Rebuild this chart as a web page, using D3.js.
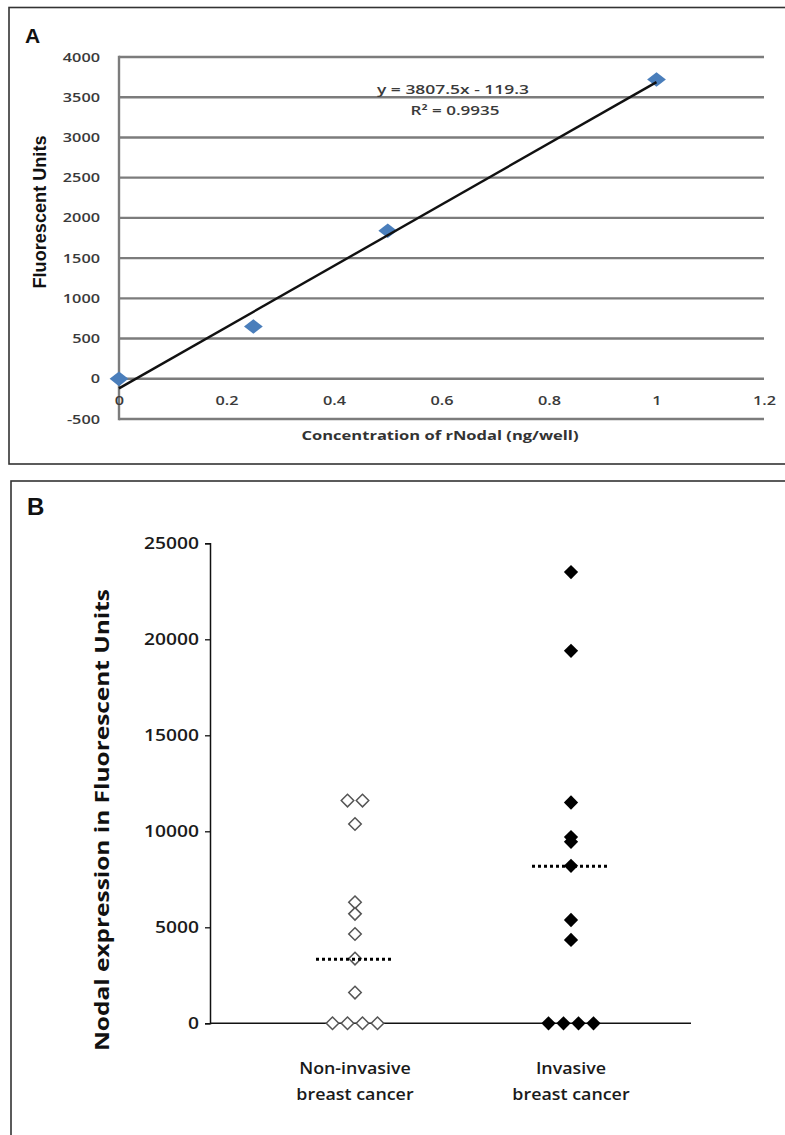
<!DOCTYPE html>
<html>
<head>
<meta charset="utf-8">
<script src="https://cdn.jsdelivr.net/npm/d3@7"></script>
<style>
  html, body { margin: 0; padding: 0; background: #fff; }
  svg { display: block; }
</style>
</head>
<body>
<svg id="chart" width="785" height="1135"></svg>
<script>
// Panel A: standard curve
const concentration = [0, 0.25, 0.5, 1];
const fluorescence = [0, 650, 1840, 3720];
const trendSlope = 3807.5;
const trendIntercept = -119.3;
const trendR2 = 0.9935;
const xTicksA = [0, 0.2, 0.4, 0.6, 0.8, 1, 1.2];
const yTicksA = [-500, 0, 500, 1000, 1500, 2000, 2500, 3000, 3500, 4000];

// Panel B: dot plot
const categories = ["Non-invasive", "Invasive"];
const categoryLines = [["Non-invasive", "breast cancer"], ["Invasive", "breast cancer"]];
const nonInvasive = [11600, 11600, 10380, 6300, 5700, 4650, 3370, 1600, 0, 0, 0, 0];
const invasive = [23500, 19400, 11500, 9700, 9450, 8200, 5380, 4340, 0, 0, 0, 0];
const medianValues = [3330, 8180];
const yTicksB = [0, 5000, 10000, 15000, 20000, 25000];

const svg = d3.select("#chart");

// stretch text horizontally (the source figure is wider than tall)
const stretch = (sel, f) => sel.each(function () {
    const w = this.getComputedTextLength();
    this.setAttribute("textLength", w * f);
    this.setAttribute("lengthAdjust", "spacingAndGlyphs");
});

// ---------- Panel A ----------
svg.append("rect").attr("x", 9).attr("y", 7.5).attr("width", 800).attr("height", 456.5)
    .attr("fill", "none").attr("stroke", "#333").attr("stroke-width", 1.6);

svg.append("text").attr("x", 25).attr("y", 43).text("A")
    .attr("font-family", "Liberation Sans, Arial").attr("font-weight", "bold")
    .attr("font-size", 21).attr("fill", "#111");

const xA = d3.scaleLinear().domain([0, 1.2]).range([119, 764]);
const yA = d3.scaleLinear().domain([-500, 4000]).range([419, 57]);

const gA = svg.append("g");

// gridlines
gA.append("g").selectAll("line").data(yTicksA).join("line")
    .attr("x1", xA(0)).attr("x2", xA(1.2))
    .attr("y1", d => yA(d)).attr("y2", d => yA(d))
    .attr("stroke", "#7c7c7c").attr("stroke-width", 2.4);

gA.append("line").attr("x1", xA(0)).attr("x2", xA(0))
    .attr("y1", yA(4000) - 1.2).attr("y2", yA(-500) + 1.2)
    .attr("stroke", "#7c7c7c").attr("stroke-width", 2.4);

// y axis labels
const yAxisA = gA.append("g").attr("transform", `translate(${xA(0)},0)`)
    .call(d3.axisLeft(yA).tickValues(yTicksA).tickSize(0).tickPadding(19)
        .tickFormat(d => (d < 0 ? "-" : "") + Math.abs(d)));
yAxisA.select(".domain").remove();
yAxisA.selectAll("text").attr("font-family", "Open Sans").attr("font-size", 12.5)
    .attr("font-weight", 600).attr("fill", "#3a3a3a").call(stretch, 1.3);

// x axis labels, sitting below the zero line
const xAxisA = gA.append("g").attr("transform", `translate(0,${yA(0)})`)
    .call(d3.axisBottom(xA).tickValues(xTicksA).tickSize(0).tickPadding(17)
        .tickFormat(d => String(+d.toFixed(1))));
xAxisA.select(".domain").remove();
xAxisA.selectAll("text").attr("font-family", "Open Sans").attr("font-size", 12.5)
    .attr("font-weight", 600).attr("fill", "#3a3a3a").call(stretch, 1.3);

// points
const diamond = d3.symbol().type(d3.symbolDiamond2);
gA.append("g").selectAll("path").data(concentration).join("path")
    .attr("transform", (d, i) => `translate(${xA(d)},${yA(fluorescence[i])}) scale(1.15,0.9)`)
    .attr("d", diamond.size(170))
    .attr("fill", "#4a7ebb");

// linear trendline
const trend = d3.extent(concentration).map(x => [x, trendSlope * x + trendIntercept]);
gA.append("path").datum(trend)
    .attr("d", d3.line().x(d => xA(d[0])).y(d => yA(d[1])))
    .attr("stroke", "#111").attr("stroke-width", 2.4).attr("fill", "none");

gA.append("text").attr("x", 453).attr("y", 94).attr("text-anchor", "middle")
    .attr("font-family", "Open Sans").attr("font-size", 12.5).attr("font-weight", 600)
    .attr("fill", "#3a3a3a")
    .attr("textLength", 152).attr("lengthAdjust", "spacingAndGlyphs")
    .text(`y = ${trendSlope}x - ${Math.abs(trendIntercept)}`);
gA.append("text").attr("x", 455).attr("y", 115).attr("text-anchor", "middle")
    .attr("font-family", "Open Sans").attr("font-size", 12.5).attr("font-weight", 600)
    .attr("fill", "#3a3a3a")
    .attr("textLength", 89).attr("lengthAdjust", "spacingAndGlyphs")
    .text(`R² = ${trendR2}`);

gA.append("text").attr("x", 440).attr("y", 440).attr("text-anchor", "middle")
    .attr("font-family", "Open Sans").attr("font-weight", "bold").attr("font-size", 13)
    .attr("fill", "#333").attr("textLength", 277).attr("lengthAdjust", "spacingAndGlyphs")
    .text("Concentration of rNodal (ng/well)");

gA.append("text").attr("transform", "translate(46,212) rotate(-90) scale(1,1.35)")
    .attr("text-anchor", "middle")
    .attr("font-family", "Liberation Sans, Arial").attr("font-weight", "bold").attr("font-size", 14)
    .attr("fill", "#111").attr("textLength", 153).attr("lengthAdjust", "spacingAndGlyphs")
    .text("Fluorescent Units");

// ---------- Panel B ----------
svg.append("rect").attr("x", 11).attr("y", 481).attr("width", 800).attr("height", 700)
    .attr("fill", "none").attr("stroke", "#333").attr("stroke-width", 1.6);

svg.append("text").attr("x", 27).attr("y", 515).text("B")
    .attr("font-family", "Liberation Sans, Arial").attr("font-weight", "bold")
    .attr("font-size", 24).attr("fill", "#111");

const xB = d3.scalePoint().domain(categories).range([355, 571]);
const yB = d3.scaleLinear().domain([0, 25000]).range([1023.3, 543.3]);
const gB = svg.append("g");

const yAxisB = gB.append("g").attr("transform", "translate(210,0)")
    .call(d3.axisLeft(yB).tickValues(yTicksB).tickSizeOuter(0).tickSize(5).tickPadding(6)
        .tickFormat(d => String(d)));
yAxisB.select(".domain").attr("stroke", "#111").attr("stroke-width", 1.5);
yAxisB.selectAll(".tick line").attr("stroke", "#111").attr("stroke-width", 1.3);
yAxisB.selectAll("text").attr("font-family", "Open Sans").attr("font-size", 16)
    .attr("font-weight", 600).attr("fill", "#1a1a1a").call(stretch, 1.2);

gB.append("line").attr("x1", 210).attr("x2", 691)
    .attr("y1", yB(0)).attr("y2", yB(0))
    .attr("stroke", "#111").attr("stroke-width", 1.5);

// spread equal values sideways so they do not overlap
const spread = (values, cat) => {
    const counts = d3.rollup(values, v => v.length, d => d);
    const seen = new Map();
    return values.map(v => {
        const n = counts.get(v);
        const i = seen.get(v) || 0;
        seen.set(v, i + 1);
        return { x: xB(cat) + (i - (n - 1) / 2) * 15, y: yB(v) };
    });
};

gB.append("g").selectAll("path").data(spread(nonInvasive, categories[0])).join("path")
    .attr("transform", d => `translate(${d.x},${d.y})`)
    .attr("d", diamond.size(100))
    .attr("fill", "#fff").attr("stroke", "#555").attr("stroke-width", 1.5);

gB.append("g").selectAll("path").data(spread(invasive, categories[1])).join("path")
    .attr("transform", d => `translate(${d.x},${d.y})`)
    .attr("d", diamond.size(130))
    .attr("fill", "#000");

// medians
gB.append("g").selectAll("line").data(medianValues).join("line")
    .attr("x1", (d, i) => xB(categories[i]) - 39).attr("x2", (d, i) => xB(categories[i]) + 38)
    .attr("y1", d => yB(d)).attr("y2", d => yB(d))
    .attr("stroke", "#000").attr("stroke-width", 3).attr("stroke-dasharray", "3,3");

// category labels
categoryLines.forEach((lines, i) => {
    const t = gB.append("text").attr("text-anchor", "middle")
        .attr("font-family", "Open Sans").attr("font-size", 17).attr("font-weight", 600)
        .attr("fill", "#1a1a1a");
    lines.forEach((line, j) => {
        t.append("tspan").attr("x", xB(categories[i])).attr("y", 1074 + j * 26).text(line);
    });
    t.selectAll("tspan").call(stretch, 1.05);
});

gB.append("text").attr("transform", "translate(109,820) rotate(-90) scale(1,1.2)")
    .attr("text-anchor", "middle")
    .attr("font-family", "Open Sans").attr("font-weight", "bold").attr("font-size", 17)
    .attr("fill", "#111").attr("textLength", 462).attr("lengthAdjust", "spacingAndGlyphs")
    .text("Nodal expression in Fluorescent Units");
</script>
</body>
</html>
